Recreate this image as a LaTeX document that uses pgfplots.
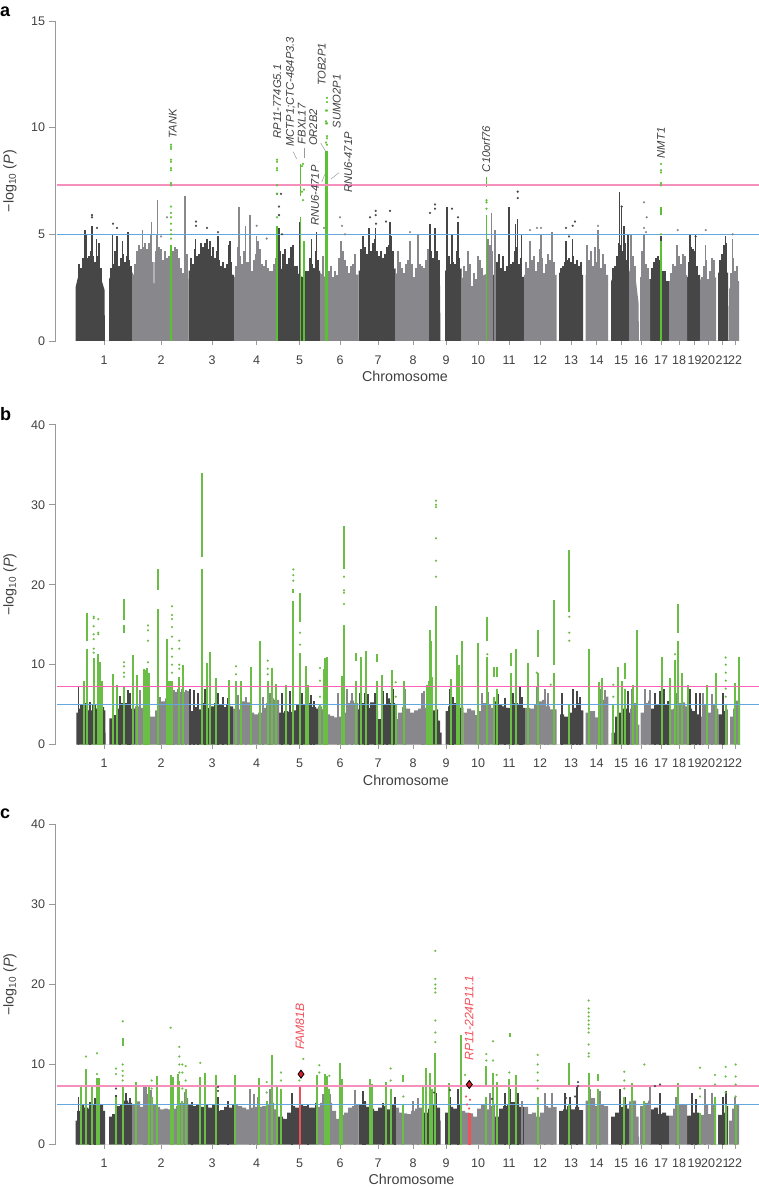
\documentclass[border=0pt]{standalone}
\usepackage{fontspec}
\setmainfont{Liberation Sans}
\usepackage{pgfplots}
\pgfplotsset{compat=1.18}
\definecolor{dk}{HTML}{464646}
\definecolor{gy}{HTML}{88888C}
\definecolor{grn}{HTML}{6ABD45}
\definecolor{grna}{HTML}{5CC033}
\definecolor{pinka}{HTML}{F590BC}
\definecolor{pinkb}{HTML}{FF5FB4}
\definecolor{blu}{HTML}{62A8DC}
\definecolor{txt}{HTML}{404040}
\definecolor{axc}{HTML}{999999}
\definecolor{redl}{HTML}{F0505A}
\definecolor{redd}{HTML}{D5202C}
\pgfplotsset{
  manh/.style={
    scale only axis, width=703.5pt, height=320pt,
    xmin=55.5, xmax=759, ymin=0,
    axis x line=bottom, axis y line=left,
    axis line style={-,draw=axc,line width=0.8pt},
    x axis line style={draw=none},
    clip=false,
    xtick={104,161,212,256.5,299.5,340,378,413,446,478,509,540,571,596.5,621,641,661,679,694.5,708,722.5,735},
    xticklabels={1,2,3,4,5,6,7,8,9,10,11,12,13,14,15,16,17,18,19,20,21,22},
    tick align=outside, major tick length=7pt,
    ytick style={draw=axc,line width=0.7pt},
    xtick style={draw=axc,line width=0.6pt,/pgfplots/major tick length=4pt},
    tick label style={font=\fontsize{12.5}{13}\selectfont,text=txt},
    xticklabel style={yshift=-4pt},
    /pgf/number format/assume math mode=true,
    unbounded coords=jump,
    xlabel={Chromosome}, ylabel={−log\textsubscript{10} (\textit{P})},
    label style={font=\fontsize{14.3}{15}\selectfont,text=txt},
    ylabel style={at={(axis description cs:-0.0647,0.5)},anchor=center,rotate=0},
  },
  mass/.style={fill=#1,draw=none,mark=none},
  sp/.style={ycomb,no markers,draw=#1,line width=1.1pt},
  fz/.style={ycomb,no markers,draw=#1,line width=1.5pt},
  gc/.style={ycomb,no markers,draw=grn,line width=2pt},
  gs/.style={no markers,draw=grn,line width=2pt},
  pt/.style={only marks,mark=*,mark size=1pt,color=#1,mark options={line width=0.2pt}},
  hl/.style={no markers,draw=#1,line width=1.6pt},
}
\newcommand{\gene}[3]{\node[rotate=90,anchor=west,inner sep=0pt,text=txt,font=\fontsize{11.2}{12}\selectfont\itshape] at (axis cs:#1,#2) {#3};}
\newcommand{\redgene}[3]{\node[rotate=90,anchor=west,inner sep=0pt,text=redl,font=\fontsize{12.2}{13}\selectfont\itshape] at (axis cs:#1,#2) {#3};}
\newcommand{\panel}[2]{\node[anchor=west,inner sep=0pt,font=\fontsize{18}{19}\selectfont\bfseries] at (0pt,#1) {#2};}
\begin{document}
\begin{tikzpicture}[x=1pt,y=1pt]
\path[use as bounding box] (0,0) rectangle (759pt,1187pt);
\panel{1175pt}{a}
\panel{773pt}{b}
\panel{373pt}{c}

% panel a
\begin{axis}[manh, at={(55.5pt,846pt)}, anchor=origin, ymax=15, ytick={0,5,10,15},
  xlabel style={at={(axis description cs:0.4968,-0.1116)},anchor=center}]
% solid part of the columns
\addplot[mass=dk] coordinates {
(75.5,0)(75.5,2.5)(78,3.0)(90,3.3)(100,3.1)(104.5,2.4)(105,0)(109,0)(109,2.9)(113,3.2)(132.5,3.2)(132.5,0)(188.5,0)(188.5,3.3)(234,3.1)(234,0)(278,0)(278,3.4)(295,3.3)(302,3.0)(308,3.0)(320,3.3)(320,0)(358.5,0)(358.5,3.3)(395.5,3.4)(395.5,0)(429,0)(429,3.3)(438,3.4)(440,2.6)(440.5,0)(445,0)(445,3.3)(461.7,3.4)(461.7,0)(493,0)(493,3.1)(524,3.0)(524,0)(559,0)(559,3.2)(583,3.1)(583,0)(611,0)(611,2.8)(617,3.3)(629,3.4)(629,0)(650,0)(650,2.9)(669,2.8)(669,0)(687,0)(687,3.0)(700,3.1)(700,0)(718,0)(718,3.2)(728,3.2)(728.5,0)
};
\addplot[mass=gy] coordinates {
(132.5,0)(132.5,3.0)(137,3.5)(150,3.7)(153.5,3.7)(154,1.7)(154.5,3.7)(160,3.3)(180,3.1)(188.5,2.9)(188.5,0)(234,0)(234,3.0)(278,3.2)(278,0)(320,0)(320,3.2)(330,2.8)(337,2.7)(345,3.2)(358.5,3.1)(358.5,0)(395.5,0)(395.5,3.2)(404,2.9)(429,3.1)(429,0)(461.7,0)(461.7,3.0)(472,2.5)(480,3.0)(493,3.3)(493,0)(524,0)(524,3.1)(556.5,3.1)(556.5,0)(585.5,0)(585.5,3.1)(608,3.1)(608,0)(629,0)(629,3.3)(636,2.8)(638.5,1.8)(639,0)(640,0)(640,3.0)(650,2.9)(650,0)(669,0)(669,2.8)(687,3.1)(687,0)(700,0)(700,2.9)(708,2.6)(716,3.0)(716,0)(729,0)(729,2.4)(733,2.9)(739,2.8)(739,0)
};
% fuzzy upper edge
\addplot[fz=dk] coordinates {
(79,3.6)(81,3.4)(83,3.9)(85,3.8)(87,3.9)(89,4.0)(91,4.2)(93,4.0)(95,3.7)(97,4.0)(99,3.7)(101,3.4)
(111,3.4)(113,3.6)(115,4.2)(117,3.7)(119,3.5)(121,3.9)(123,4.1)(125,3.7)(127,4.0)(129,3.8)(131,3.5)
(191,3.9)(193,3.6)(195,4.3)(197,4.0)(199,4.1)(201,3.8)(203,4.4)(205,4.6)(207,4.8)(209,4.3)(211,4.0)(213,4.4)(215,3.9)(217,4.2)(219,3.8)(221,3.5)(223,3.7)(225,3.4)(227,3.6)(229,4.5)(231,3.7)
(280,4.2)(283,4.1)(285,4.3)(287,3.6)(289,3.9)(291,4.4)(293,4.1)(295,3.5)(297,3.5)(306,3.3)(308,3.3)(310,3.9)(312,3.6)(314,3.4)(316,4.2)(318,3.8)
(361,4.3)(363,3.9)(365,4.4)(367,4.1)(369,4.6)(371,4.2)(373,4.6)(375,4.8)(377,4.2)(379,4.0)(381,4.2)(383,3.9)(385,4.1)(387,4.4)(389,4.5)(391,4.9)(393,4.2)
(431,4.2)(433,3.9)(435,4.5)(437,4.2)(439,3.8)(447,4.3)(449,4.0)(451,3.6)(453,3.7)(455,3.6)(457,4.2)(459,3.9)
(495,4.2)(497,3.7)(499,4.1)(501,3.4)(503,4.0)(505,3.3)(507,3.5)(509,3.2)(511,3.6)(513,3.7)(515,4.2)(517,4.4)(519,3.6)(521,3.9)
(561,3.4)(563,3.5)(565,3.7)(567,3.8)(569,3.9)(571,3.7)(573,4.0)(575,3.6)(577,3.8)(579,3.5)(581,3.7)
(613,3.4)(615,3.5)(617,4.0)(619,4.6)(621,4.5)(623,4.2)(625,4.6)(627,3.8)
(652,3.4)(654,3.7)(656,3.9)(658,4.0)(660,3.8)(663,3.3)(665,3.3)(689,3.7)(691,4.4)(693,4.3)(695,4.2)(697,3.5)(720,3.8)(722,4.1)(724,4.5)(726,4.6)
};
\addplot[fz=gy] coordinates {
(135,3.6)(137,4.2)(139,4.5)(141,4.3)(143,4.4)(145,4.6)(147,4.3)(149,4.6)(151,5.0)(156,4.2)(157,5.0)(159,4.4)(161,4.3)(163,3.8)(165,4.2)(167,3.9)(169,4.0)(173,4.2)(175,4.4)(177,4.3)(179,3.9)(181,3.4)(183,3.2)(185,5)(187,4.1)
(236,3.5)(238,4.4)(240,4.0)(242,3.6)(244,4.2)(246,3.7)(248,3.7)(250,4.4)(252,3.3)(254,3.8)(256,4.1)(258,4.7)(260,4.3)(262,3.6)(264,3.5)(266,3.8)(268,3.4)(270,3.3)(272,3.3)(274,3.6)(276,3.9)
(323,4.0)(326,3.9)(329,3.3)(331,3.5)(333,3.0)(335,3.3)(337,3.1)(339,3.9)(341,4.5)(343,4.2)(345,3.8)(347,3.5)(349,3.2)(351,3.5)(353,3.6)(355,4.1)
(398,4.2)(400,3.7)(402,3.4)(404,3.2)(406,3.6)(408,3.8)(410,4.4)(412,3.6)(414,3.0)(416,3.4)(418,3.9)(420,3.6)(422,3.5)(424,3.4)(426,3.8)(428,4.3)
(464,3.5)(466,3.3)(468,4.2)(470,3.6)(472,2.6)(474,3.2)(476,2.9)(478,4.0)(480,3.8)(482,3.4)(484,3.0)(488,4.8)(490,4.5)(492,4.2)
(526,3.7)(528,3.4)(530,4.2)(532,3.8)(534,4.0)(536,3.3)(538,3.7)(540,4.3)(542,3.9)(544,3.2)(546,3.6)(548,4.1)(550,3.8)(552,4.3)(554,3.7)
(587,4.5)(589,3.8)(591,4.2)(593,3.5)(595,4.4)(597,3.7)(599,4.3)(601,3.4)(603,4.1)(605,3.6)
(631,4.8)(633,4.0)(635,3.5)(642,4.2)(644,4.4)(646,3.6)(648,3.4)
(671,3.2)(673,3.6)(675,3.5)(677,3.9)(679,4.0)(681,3.6)(683,4.1)(685,4.0)
(702,3.0)(704,3.5)(706,3.8)(708,2.9)(710,3.3)(712,3.9)(714,3.8)(731,3.2)(733,3.9)(735,3.3)(737,3.5)
};
\addplot[sp=dk] coordinates {(85,5.2)(86,5.0)(92,5.4)(96.7,4.8)(99,4.6)(112.7,5.0)(117,4.9)(122.7,4.7)(128,5.1)(195.7,4.8)(201,4.6)(210,4.7)(218,4.9)(230,4.7)(279,5.3)(293,4.5)(300,5.6)(311.7,4.8)(316.7,5.1)(363,4.9)(369,5.3)(375.7,5.3)(390,5.6)(430,5.5)(435,5.3)(447,6.3)(452,5.0)(458,5.6)(509,6.3)(515.7,5.5)(517.7,5.7)(521.7,5.0)(566,4.7)(572.7,4.8)(619.7,7.0)(621.7,6.3)(624,5.4)(628,5.0)(661,4.9)(690,5.0)(695.7,5.0)(725.7,4.9)};
\addplot[sp=gy] coordinates {(142.7,5.2)(151.7,5.6)(157.7,6.6)(185,6.8)(239,6.3)(245.7,5.4)(250,5.9)(256.7,4.9)(341,4.7)(410,4.7)(418,5.0)(491.7,6.0)(495,5.2)(530,4.7)(541,5.0)(552,5.1)(598,5.2)(631,5.0)(644,5.0)(677,4.5)(705.7,4.5)(732.7,4.8)};
\addplot[pt=dk] coordinates {(92,5.8)(92,5.9)(97,5.3)(113,5.5)(117,5.3)(196,5.6)(196,5.4)(207,5.3)(218,5.1)(279,5.9)(279,6.3)(281,6.9)(277,6.9)(282,5.0)(375.7,5.9)(375.7,6.1)(370,5.8)(390,6.1)(386,5.6)(376,5.5)(430,6.0)(435,6.4)(435,6.2)(452,6.2)(458,5.8)(517.7,6.7)(517.7,7.0)(566,5.3)(572.7,5.4)(575,5.6)(569,4.9)(621.7,6.3)(690,4.9)(695.7,4.9)};
\addplot[pt=gy] coordinates {(167,5.8)(340,5.8)(342,5.4)(345,5.0)(324,5.3)(410,5.1)(530,5.2)(537,5.3)(541,5.3)(598,5.4)(644,6.5)(646.7,5.8)(644,5.3)(646,5.1)(677.7,5.2)(705.7,5.2)(256.7,5.4)(266.7,4.8)(161,4.9)(732.7,5.0)};
\addplot[ycomb,no markers,draw=grna,line width=1.5pt] coordinates {(171,4.5)(277,5.4)(300.5,5.8)(304,4.7)(486.5,5.9)(661,4.7)};
\addplot[ycomb,no markers,draw=grna,line width=2.8pt] coordinates {(326.8,8.9)};
\addplot[no markers,draw=grna,line width=1.5pt] coordinates {(486.5,7.2)(486.5,7.7)(300.5,nan)(300.5,6.8)(300.5,8.3)(661,nan)(661,5.9)(661,6.3)};
\addplot[only marks,mark=*,mark size=1pt,color=grna,mark options={line width=0.2pt}] coordinates {
(171,4.8)(171,5.0)(171,5.2)(171,5.5)(171,5.8)(171,6.0)(171,6.3)(171,7.3)(171,7.4)(171,8.0)(171,8.1)(171,8.4)(171,8.5)(171,9.0)(171,9.1)(171,9.2)
(277,5.8)(277,6.9)(277,7.3)(277,8.0)(277,8.1)(277,8.4)(277,8.5)
(303,6.6)(302,7.0)(303,8.3)(302,8.2)(304,7.1)
(327,9.2)(326,9.3)(327,9.5)(327,9.6)(326,10.2)(327,10.2)(326,10.3)(327,10.8)(326,10.8)(327,11.2)(327,11.4)
(486.5,6.2)(486.5,6.5)(486.5,6.6)
(661,5.0)(661,7.3)(661,7.4)(661,7.9)(661,8.0)(661,8.3)};
\addplot[hl=pinka] coordinates {(57,7.3)(759,7.3)};
\addplot[hl=blu] coordinates {(57,5)(759,5)};
\draw[axc,line width=0.5pt] (axis cs:293.3,8.87)--(axis cs:296.7,8.53);
\draw[axc,line width=0.5pt] (axis cs:304,9.05)--(axis cs:304,8.58);
\draw[axc,line width=0.5pt] (axis cs:320.7,9.28)--(axis cs:326,8.86);
\draw[axc,line width=0.5pt] (axis cs:321.7,7.45)--(axis cs:325,7.83);
\draw[axc,line width=0.5pt] (axis cs:331,7.59)--(axis cs:339,7.89);
\gene{172.7}{9.5}{TANK}
\gene{277.3}{9.48}{RP11-774G5.1}
\gene{290.7}{9.11}{MCTP1;CTC-484P3.3}
\gene{301.7}{9.22}{FBXL17}
\gene{313.3}{9.14}{OR2B2}
\gene{315}{5.39}{RNU6-471P}
\gene{321.7}{11.95}{TOB2P1}
\gene{336.7}{9.97}{SUMO2P1}
\gene{348.3}{6.95}{RNU6-471P}
\gene{486}{7.91}{C10orf76}
\gene{661}{8.56}{NMT1}
\end{axis}

% panel b
\begin{axis}[manh, at={(55.5pt,442.3pt)}, anchor=origin, ymax=40, ytick={0,10,20,30,40},
  xlabel style={at={(axis description cs:0.498,-0.1103)},anchor=center}]
\addplot[mass=dk,const plot] coordinates {
(76.3,0)(76.3,4.0)(78,4.5)(80,5)(84,5.2)(88,4.3)(92,5)(96,4.5)(100,4.7)(104,4.3)(105.3,1.5)(105.5,0)
(109.3,0)(109.3,3.3)(112,3.7)(116,4.5)(120,5.2)(124,5.2)(128,4.5)(132,4.5)(135,4.6)(135,0)
(189.3,0)(189.3,4.2)(194,4.7)(198,4.4)(202,5.2)(206,4.6)(210,4.8)(214,5.2)(218,5.0)(222,4.7)(226,5.0)(230,4.8)(233,4.5)(233,0)
(279,0)(279,4)(284,4.2)(288,4.1)(292,4.3)(296,5)(300,5)(304,5)(308,5.2)(312,4.7)(316,4.5)(318,4.4)(318,0)
(358,0)(358,4.4)(362,5.2)(366,4.6)(370,5.3)(374,4.2)(378,3.2)(382,5)(386,5.8)(390,5.2)(395,4)(395,0)
(426.7,0)(426.7,3.8)(432,4.3)(436,4.4)(438,3)(440,1.5)(441.7,0.5)(441.7,0)
(445.7,0)(445.7,4.2)(448,4.8)(452,5.2)(456,5)(460,4.6)(463.3,4.8)(463.3,0)
(495,0)(495,5.4)(498,5)(502,4.8)(506,4.6)(510,5)(514,5.2)(518,5)(522,4.6)(525,4.6)(525,0)
(560,0)(560,3.8)(564,3.5)(568,4)(572,4.6)(576,5.2)(580,4.3)(583.3,3.5)(583.3,0)
(611.7,0)(611.7,1.5)(615,3.5)(619,4)(623,4.5)(627,4)(630,4.2)(630,0)
(650.7,0)(650.7,4.5)(655,5)(660,5.2)(664,5)(668,4)(669.3,3.8)(669.3,0)
(689,0)(689,4.5)(692,4.2)(696,3.8)(700.7,3.5)(700.7,0)
(718.3,0)(718.3,3.8)(722,4.2)(725,4.4)(727.7,3.7)(727.7,0)
};
\addplot[mass=gy,const plot] coordinates {
(135,0)(135,4.8)(140,4.6)(145,4.4)(150,3.5)(155,4.3)(160,5.4)(165,5.8)(170,6.2)(175,6.6)(180,6.6)(185,6.7)(189.3,6)(189.3,0)
(233,0)(233,4.5)(238,4.4)(242,5.4)(246,5.3)(250,4)(254,3.8)(258,4)(262,4.6)(266,5.2)(270,5.8)(274,5.6)(279,4.2)(279,0)
(318,0)(318,4.8)(322,4.4)(326,3.8)(330,3.6)(334,3.4)(338,3.5)(342,4)(346,5.2)(350,5.5)(354,5.2)(358,4.6)(358,0)
(395,0)(395,3.2)(398,4)(402,4.7)(406,4.5)(410,4)(414,4.3)(418,4.5)(422,4.6)(426.7,4.3)(426.7,0)
(463.3,0)(463.3,4)(467,4.5)(471,4.3)(475,3.7)(479,4.2)(483,5.2)(487,5)(491,4.6)(495,5)(495,0)
(525,0)(525,4.6)(530,4.5)(534,5)(538,5.4)(542,5.6)(546,4.8)(550,4.4)(556.7,3.8)(556.7,0)
(585.7,0)(585.7,4)(590,4.2)(595,3.4)(600,5.6)(604,6)(608.3,4.5)(608.3,0)
(630,0)(630,4.5)(634,5.2)(637,2.5)(639.3,0.5)(639.3,0)
(640.7,0)(640.7,4)(644,5.2)(648,5.5)(650.7,5)(650.7,0)
(669.3,0)(669.3,4.4)(673,4.5)(677,5.2)(681,5.3)(685,4.8)(689,4.5)(689,0)
(700.7,0)(700.7,3.5)(704,5)(708,4)(712,5)(715,4.5)(718.3,4)(718.3,0)
(730,0)(730,3.5)(733,4.5)(736,5.5)(740,4)(740,0)
};
\addplot[sp=dk] coordinates {(78.7,7.2)(83.3,6.3)(90,5.3)(120,6.1)(128,6.8)(130,6.5)(190,7)(194,6.8)(198,6.5)(202,7.2)(205,7)(218,6.5)(223,6)(228,5.8)(282,6.4)(290,6.7)(302,6.5)(308,7)(311,6.2)(314,5.5)(360,6.5)(365,6.5)(368,6.3)(375,6.5)(383,6.7)(387,6.5)(393,7.0)(432,7.5)(450,7.0)(453,6.0)(498,6.3)(505,5.8)(513,6.5)(520,7.2)(522,6)(562,6.5)(573,7)(577,6.7)(580,6)(618,5.5)(625,6.5)(628,6.7)(655,6.5)(660,6.7)(664,7)(668,5.5)(690,7)(696,6.5)(700,6.5)(723,6.5)};
\addplot[sp=gy] coordinates {(140,6.8)(160,6)(174,6.8)(178,6.9)(182,6.9)(186,6.8)(238,6.2)(246,6)(263,6)(268,6.8)(270,6.5)(338,6.5)(347,7)(352,6.5)(405,7)(422,6.5)(424,6.7)(482,6.5)(488,6.6)(537,7.2)(545,7)(548,6.5)(600,7)(605,6.8)(632,7)(645,7)(650,6.8)(676,6.5)(703,6.5)(712,6.3)(735,7)};
\addplot[gc] coordinates {(84,8)(86.7,12)(93.7,10.8)(98.3,11.3)(100,10.3)(102.3,8)(113.3,8.8)(116.7,7.5)(124,7.2)(132.7,11.2)(136.7,8.7)(144,9.5)(145.5,9.3)(146,9)(147.2,9.6)(148.5,9)(157.7,17)(167.3,13.2)(169,8)(170.5,8)(172,8)(179.3,8.5)(183.3,10)(201.7,22)(206.7,10.2)(210,11.6)(216,8.3)(229,8.1)(236,8)(240.7,8)(251,9.7)(260,13)(267.7,8)(272.3,9.6)(276,7.6)(285.7,7.4)(293.3,18)(300,11.5)(305.7,9.8)(308,7.5)(320,5)(324,9.5)(325,10.8)(326,10.6)(327.3,10.9)(341.7,8.6)(344,15)(356,8)(360.7,11)(365.7,11.7)(377,8)(381.7,8.7)(391.7,9.3)(395.7,5)(404,8)(426.7,7.5)(428.5,8)(430,14.3)(431.2,13)(432.3,8.5)(436,17.3)(450.7,8.2)(457.3,11.2)(459,10)(461.7,13)(478,12.7)(487.3,11)(494,6)(497.3,7)(510.7,9)(516,12)(528.3,10.2)(538.3,9)(553.7,9)(569.3,5)(588.7,12)(599.3,7.8)(602,8.3)(613.3,5)(618,9.7)(622.3,8)(625,7)(633.3,7.5)(637.3,14.3)(661.7,11)(670,8.3)(675,10.6)(678.3,13)(682.3,9)(687.7,7.5)(706.7,7.5)(715.7,9)(725.7,5)(735,7.7)(739,11)};
\addplot[gs] coordinates {(86.7,13)(86.7,16.5)(124,nan)(124,14)(124,15)(124,nan)(124,15.6)(124,18.2)(201.7,nan)(201.7,23.5)(201.7,34)(300,nan)(300,15.3)(300,19)(344,nan)(344,22)(344,27.3)(487.3,nan)(487.3,13)(487.3,16)(538.3,nan)(538.3,11)(538.3,14.3)(553.7,nan)(553.7,10)(553.7,18.1)(569.3,nan)(569.3,16.6)(569.3,24.3)(678.3,nan)(678.3,14)(678.3,17.6)(157.7,nan)(157.7,19.3)(157.7,22)(293.3,nan)(293.3,19)(293.3,19.4)(625,nan)(625,8.2)(625,10.2)(510.7,nan)(510.7,9.8)(510.7,11.5)(494,nan)(494,8.5)(494,9.7)(497.3,nan)(497.3,8.5)(497.3,9.7)(356,nan)(356,10.4)(356,11.5)(377,nan)(377,10.3)(377,11.3)};
\addplot[pt=grn] coordinates {(93.7,11.5)(93.7,12)(93.7,13.2)(93.7,13.8)(93.7,14.8)(93.7,15.8)(93.7,16)(98.3,13.8)(98.3,14)(98.3,15.7)(124,8.5)(124,9)(124,9.8)(124,10.3)(148,10.3)(148,13)(148,14.3)(148,14.9)(172,9)(172,10)(172,11)(172,12)(172,13.5)(172,14.7)(172,15.7)(172,16.2)(172,17.3)(179.3,9.5)(179.3,10)(179.3,12)(179.3,13)(236,8.8)(236,9.8)(267.7,8.8)(267.7,9.5)(267.7,10.5)(293.3,20.5)(293.3,21.2)(293.3,21.9)(300,12.5)(300,14)(344,17.6)(344,19)(344,19.3)(344,21)(436,21)(436,23)(436,25.8)(436,29.7)(436,30)(436,30.5)(569.3,13)(569.3,14)(569.3,16)(536.7,9)(487.3,11.3)(678,11)(675,11.3)(725.7,6)(725.7,7)(725.7,8)(725.7,9)(725.7,10)(725.7,10.9)(395.7,6)(395.7,7.8)(320,6)(320,8)(320,9.6)(550.7,7.5)(613.3,6)(613.3,7.5)};
\addplot[no markers,draw=pinkb,line width=1.5pt] coordinates {(57,7.3)(759,7.3)};
\addplot[hl=blu] coordinates {(57,5)(759,5)};
\end{axis}

% panel c
\begin{axis}[manh, at={(55.5pt,42.5pt)}, anchor=origin, ymax=40, ytick={0,10,20,30,40},
  xlabel style={at={(axis description cs:0.506,-0.1081)},anchor=center}]
\addplot[mass=dk,const plot] coordinates {
(75.5,0)(75.5,3)(77,4.2)(80,5)(84,4.6)(88,4.5)(92,5)(96,5.2)(100,5)(103,4.2)(105,2)(105,0)
(109,0)(109,3.5)(112,3.8)(116,4.8)(120,5)(124,5.5)(128,5.2)(132,5)(132,0)
(188,0)(188,5)(192,4.8)(196,5)(200,4.7)(204,5)(208,4.6)(212,5)(216,4.2)(220,4.3)(224,4.7)(228,4.6)(232,5)(234,4.7)(234,0)
(278,0)(278,3.5)(283,3.2)(287,4)(291,4.8)(295,4.6)(299,5)(303,4.8)(307,4.6)(311,4.6)(315,5.2)(316,4.5)(316,0)
(358.5,0)(358.5,5)(362,5.3)(366,4.7)(370,4.5)(374,4.2)(378,4.6)(382,4.8)(386,4.4)(390,5)(395,4.6)(395,0)
(423,0)(423,4)(428,4.5)(432,5)(436,4.6)(440,3)(440.5,0)
(445,0)(445,4)(449,4.7)(453,4.5)(457,5)(461,5)(461,0)
(495,0)(495,3.5)(499,4.5)(503,4.8)(507,5)(511,5.3)(515,5)(519,4.7)(524,4.5)(524,0)
(559,0)(559,4.2)(563,4.4)(567,4.8)(571,4.4)(575,4.7)(579,4.3)(583,4.2)(583,0)
(611,0)(611,3.5)(615,4)(619,4.7)(623,5)(627,4.5)(629,5)(629,0)
(650,0)(650,4.4)(654,4.6)(658,3.8)(662,4)(666,3.6)(669,3.5)(669,0)
(687,0)(687,3.6)(691,4)(695,4)(699,3.4)(700,2)(700,0)
(718,0)(718,3.7)(722,4)(726,4.8)(728,3.8)(728,0)
};
\addplot[mass=gy,const plot] coordinates {
(132,0)(132,5)(136,5.4)(140,4.7)(144,6.3)(148,5.6)(152,5)(156,4.7)(160,4.4)(164,4.5)(168,4.4)(172,4.5)(176,4.8)(180,5.2)(184,5.8)(188,5)(188,0)
(234,0)(234,5)(238,4.8)(242,4.6)(246,4.4)(250,4.6)(254,4.7)(258,4.7)(262,4.8)(266,5)(270,5.2)(274,4.4)(278,3.7)(278,0)
(316,0)(316,4.7)(320,5.2)(324,5.6)(328,5.2)(332,4.2)(336,3.2)(340,3.7)(344,4)(348,4.6)(352,4.8)(356,5)(358.5,5.1)(358.5,0)
(395,0)(395,4.6)(399,4)(403,3.9)(407,3.8)(411,4.2)(415,4.5)(419,4.6)(423,4.4)(423,0)
(461,0)(461,4.2)(465,4)(469,3.9)(473,3.5)(477,4.5)(481,5)(485,4.4)(489,4.8)(493,5)(495,4)(495,0)
(524,0)(524,4.7)(528,3.8)(532,4)(536,3.5)(540,4)(544,4.8)(548,4.6)(552,4.7)(556.5,4)(556.5,0)
(585.5,0)(585.5,5.5)(590,5.8)(595,4.8)(600,5)(604,4.8)(608,4.5)(608,0)
(629,0)(629,5.4)(633,5.5)(636,3.5)(638.5,1)(639,0)
(640,0)(640,4.8)(644,5.2)(648,5.5)(650,5)(650,0)
(669,0)(669,3.6)(673,4.5)(677,5)(681,5)(685,5)(687,4)(687,0)
(700,0)(700,3.7)(704,5)(708,3.8)(712,5)(716,4)(716,0)
(729,0)(729,3)(732,4.5)(735,5)(739,4.8)(739,0)
};
\addplot[sp=dk] coordinates {(78.7,5.9)(90,5.3)(95,5.8)(116,6.2)(126,6.5)(130,5.8)(192,5.3)(218,6)(228,5.5)(292,6.5)(308,5)(363,6.7)(365,5.5)(383,5.2)(391,7.0)(395,6)(432,6.5)(436,6.5)(450,6)(458,7.0)(505,6.5)(510,6.9)(518,6.5)(565,6.5)(570,6)(577,7.3)(620,7.0)(625,6)(660,6.5)(692,6.5)(696,5.7)(723,6)(726,6.7)};
\addplot[sp=gy] coordinates {(136,7.3)(144,7.3)(146,7.2)(151,6.8)(185,6.6)(250,6.9)(254,6.3)(258,6)(270,7)(323,6.3)(330,6.3)(355,6.8)(372,6.3)(413,5.5)(418,5.8)(490,6.5)(522,5.5)(545,6.5)(552,6.5)(590,7)(600,6.7)(650,7.3)(676,6)(705,7)(712,6.5)(735,6)};
\addplot[gc] coordinates {(80.7,7.4)(86,9.5)(92,7.5)(97,8.3)(98.7,8.3)(116,6)(122.7,7.5)(136,7.8)(149,7.4)(151.7,6)(156.7,8.6)(170.7,8.7)(173,8.4)(177.7,8.8)(179.3,8)(182.3,5.5)(185.7,7)(200.3,8.4)(205.3,8.9)(216,8.7)(235.3,8.7)(259,8.3)(266.7,5.5)(271.7,8)(276.7,7.5)(281,7)(317.3,8.7)(325,8.8)(327.3,8.6)(329.3,7)(340,10.2)(342.3,8.2)(370,8.2)(372.3,7.6)(386,7.8)(390.7,7)(403.3,5)(423.3,7.3)(426,9.6)(430,9)(432.3,7)(435.3,11.5)(449,7.7)(461,13.7)(486.3,6)(493,9)(496.7,7.8)(509.3,8.2)(515.7,8.7)(537.7,6)(569,5)(588.7,9)(598,7)(624.3,6)(632,7.7)(644.3,5.5)(677.7,7.7)(700,4)(715,6)(725.7,5)(735.7,5)};
\addplot[gs] coordinates {(122.7,12.3)(122.7,13.3)(271.7,nan)(271.7,8)(271.7,11.2)(403.3,nan)(403.3,7.8)(403.3,8.7)(510,nan)(510,13.4)(510,14)(569,nan)(569,7.5)(569,10.2)(598,nan)(598,8)(598,8.8)(486.3,nan)(486.3,7.5)(486.3,9.8)};
\addplot[pt=grn] coordinates {(86,11)(97,8.8)(97,11.4)(116,8.8)(116,9.5)(122.7,8)(122.7,8.6)(122.7,9.2)(122.7,10)(122.7,15.4)(151.7,7)(151.7,8)(170.7,14.6)(179.3,9)(179.3,10)(179.3,11)(179.3,12.2)(182.3,7)(182.3,9)(182.3,10)(185.7,8)(185.7,9.8)(200.3,10.2)(266.7,6.5)(266.7,7.8)(281,8)(281,9)(299.3,8)(303.3,10.7)(319.3,9)(319.3,9.9)(329.3,8.6)(390.7,8)(390.7,9.5)(403.3,6)(435.3,12.8)(435.3,14)(435.3,15.5)(435.3,19)(435.3,19.5)(435.3,20)(435.3,20.7)(435.3,24.2)(465,8.7)(486.3,10.5)(486.3,11.3)(493,10.5)(493,12.9)(496.7,8.7)(509.3,9)(537.7,7)(537.7,8)(537.7,9)(537.7,10)(537.7,11.2)(588.7,11)(588.7,11.4)(588.7,12.5)(588.7,14)(588.7,14.5)(588.7,15)(588.7,15.5)(588.7,16)(588.7,16.5)(588.7,17)(588.7,18)(624.3,7)(624.3,8)(624.3,9.1)(644.3,10)(700,6)(700,7)(700,9.6)(715,7.5)(715,8.7)(725.7,6.5)(725.7,8.5)(725.7,9.7)(735.7,6)(735.7,7.5)(735.7,8.5)(735.7,10)};
\addplot[pt=dk] coordinates {(116,7)(218,7.2)(218,6.7)(450,6.8)(578,7.8)(578,7.3)(575,6)(655,7.3)(660,7.5)(566,5.8)(492,5.7)(434,6.5)};
\addplot[ycomb,no markers,draw=redl,line width=1.7pt] coordinates {(300.3,7.5)};
\addplot[ycomb,no markers,draw=redl,line width=3pt] coordinates {(469.3,3.9)};
\addplot[pt=redl] coordinates {(469,4.5)(467,5)(470,5.6)(466,6.0)};
\addplot[no markers,draw=pinka,line width=2pt] coordinates {(57,7.3)(759,7.3)};
\addplot[no markers,draw=blu,line width=1pt] coordinates {(57,5)(759,5)};
\addplot[only marks,mark=diamond*,mark size=4pt,mark options={fill=redd,draw=black,line width=0.8pt}] coordinates {(301,8.8)(469.3,7.5)};
\redgene{300}{11.8}{FAM81B}
\redgene{469}{10.5}{RP11-224P11.1}
\end{axis}
\end{tikzpicture}
\end{document}
